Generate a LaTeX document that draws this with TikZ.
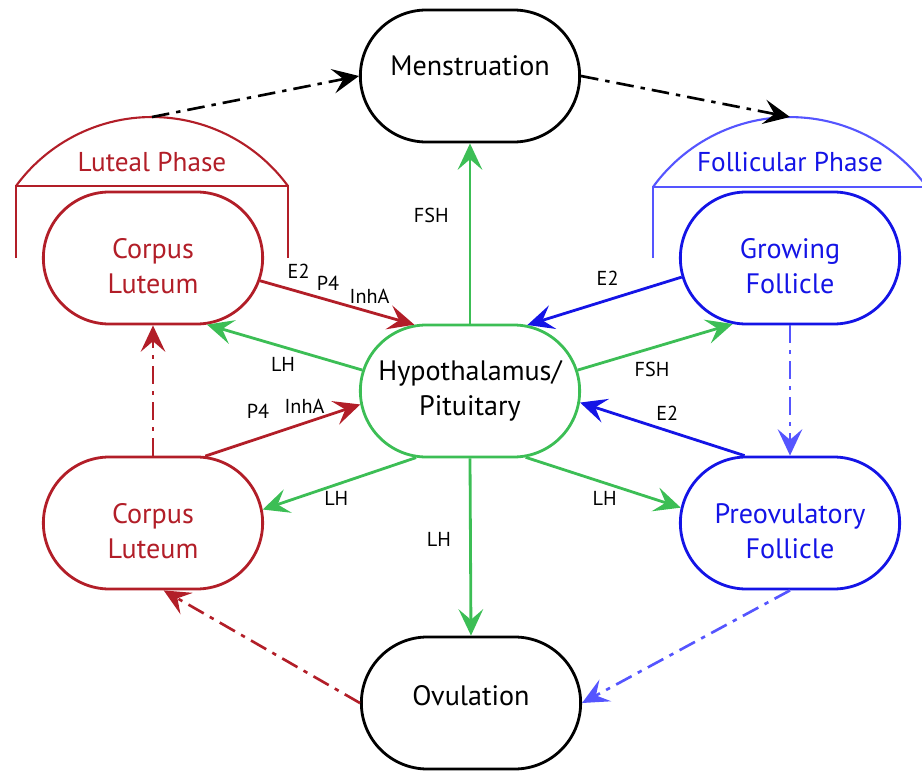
\documentclass[tikz,border=0pt]{standalone}
\usepackage{fontspec}
\setmainfont{PT Sans}
\usetikzlibrary{shapes.misc,arrows.meta}
\definecolor{lutred}{RGB}{178,30,40}
\definecolor{folblue}{RGB}{20,20,230}
\definecolor{lightblue}{RGB}{85,85,255}
\definecolor{hormgreen}{RGB}{60,190,85}

\begin{document}
\begin{tikzpicture}[
  stage/.style={rounded rectangle,draw,line width=1.6pt,minimum width=4.62cm,minimum height=2.64cm,align=center,font=\fontsize{16}{20}\selectfont},
  lowtext/.style={text height=40pt,text depth=0pt},
  hormone/.style={line width=1.6pt,-{Stealth[length=15pt,width=14pt,inset=6pt]}},
  phase/.style={line width=1.5pt,dash pattern=on 10pt off 4pt on 2.5pt off 4pt,-{Stealth[length=15pt,width=14pt,inset=6pt]}},
  lbl/.style={font=\fontsize{11.5}{13}\selectfont,text=black},
  bracket/.style={line width=1.2pt}
]
\clip (0,0) rectangle (18.44,15.4);
\node[stage,text height=12pt,text depth=12pt] (men) at (9.4,13.88) {Menstruation};
\node[stage,draw=hormgreen] (hyp) at (9.4,7.58) {Hypothalamus/\\Pituitary};
\node[stage,text height=12pt,text depth=8.8pt] (ovu) at (9.42,1.34) {Ovulation};
\node[stage,lowtext,draw=lutred,text=lutred] (clt) at (3.06,10.24) {Corpus\\Luteum};
\node[stage,lowtext,draw=lutred,text=lutred] (clb) at (3.06,4.94) {Corpus\\Luteum};
\node[stage,lowtext,draw=folblue,text=folblue] (gf) at (15.8,10.24) {Growing\\Follicle};
\node[stage,lowtext,draw=folblue,text=folblue] (pf) at (15.8,4.94) {Preovulatory\\Follicle};

\draw[bracket,lutred] (0.32,10.24) -- (0.32,11.68) -- (5.76,11.68) -- (5.76,10.24);
\draw[bracket,lutred] (0.32,11.68) arc[start angle=143.8,end angle=36.2,radius=3.37];
\coordinate (lutop) at (3.04,13.06);
\node[text=lutred,font=\fontsize{15.5}{18}\selectfont] (lutlabel) at (3.04,12.16) {Luteal Phase};
\draw[bracket,lightblue] (13.06,10.24) -- (13.06,11.66) -- (18.54,11.66) -- (18.54,10.24);
\draw[bracket,lightblue] (13.06,11.66) arc[start angle=144.1,end angle=35.9,radius=3.381];
\coordinate (foltop) at (15.8,13.06);
\node[text=folblue,font=\fontsize{15.5}{18}\selectfont] (follabel) at (15.8,12.16) {Follicular Phase};

\draw[hormone,hormgreen] (hyp.north) -- (men.south) node[lbl,pos=0.6,left=8pt] (fshup) {FSH};
\draw[hormone,hormgreen] (hyp.south) -- (ovu.north) node[lbl,pos=0.46,left=7pt] (lhdown) {LH};
\draw[hormone,lutred] (clt.-12) -- (hyp.130) node[lbl,pos=0.25,yshift=0.4cm] (e2a) {E2}
  node[lbl,pos=0.44,yshift=0.34cm] (p4a) {P4} node[lbl,pos=0.71,yshift=0.32cm] (inha) {InhA};
\draw[hormone,hormgreen] (hyp.169) -- (clt.-51) node[lbl,pos=0.51,yshift=-0.35cm] (lha) {LH};
\draw[hormone,lutred] (clb.52) -- (hyp.187) node[lbl,pos=0.34,yshift=0.54cm] (p4b) {P4}
  node[lbl,pos=0.64,yshift=0.34cm] (inhb) {InhA};
\draw[hormone,hormgreen] (hyp.231) -- (clb.7) node[lbl,pos=0.52,yshift=-0.27cm] (lhb) {LH};
\draw[hormone,folblue] (gf.190) -- (hyp.49) node[lbl,pos=0.48,yshift=0.44cm] (e2b) {E2};
\draw[hormone,hormgreen] (hyp.11) -- (gf.229) node[lbl,pos=0.48,yshift=-0.42cm] (fshb) {FSH};
\draw[hormone,folblue] (pf.124) -- (hyp.-6) node[lbl,pos=0.47,yshift=0.35cm] (e2c) {E2};
\draw[hormone,hormgreen] (hyp.-50) -- (pf.172) node[lbl,pos=0.51,yshift=-0.3cm] (lhc) {LH};

\draw[phase] (lutop) -- (men.west);
\draw[phase] (men.east) -- (foltop);
\draw[phase,lutred] (clb.north) -- (clt.south);
\draw[phase,lutred] (ovu.west) -- (clb.-81);
\draw[phase,lightblue] (gf.south) -- (pf.north);
\draw[phase,lightblue] (pf.south) -- (ovu.east);
\end{tikzpicture}
\end{document}
